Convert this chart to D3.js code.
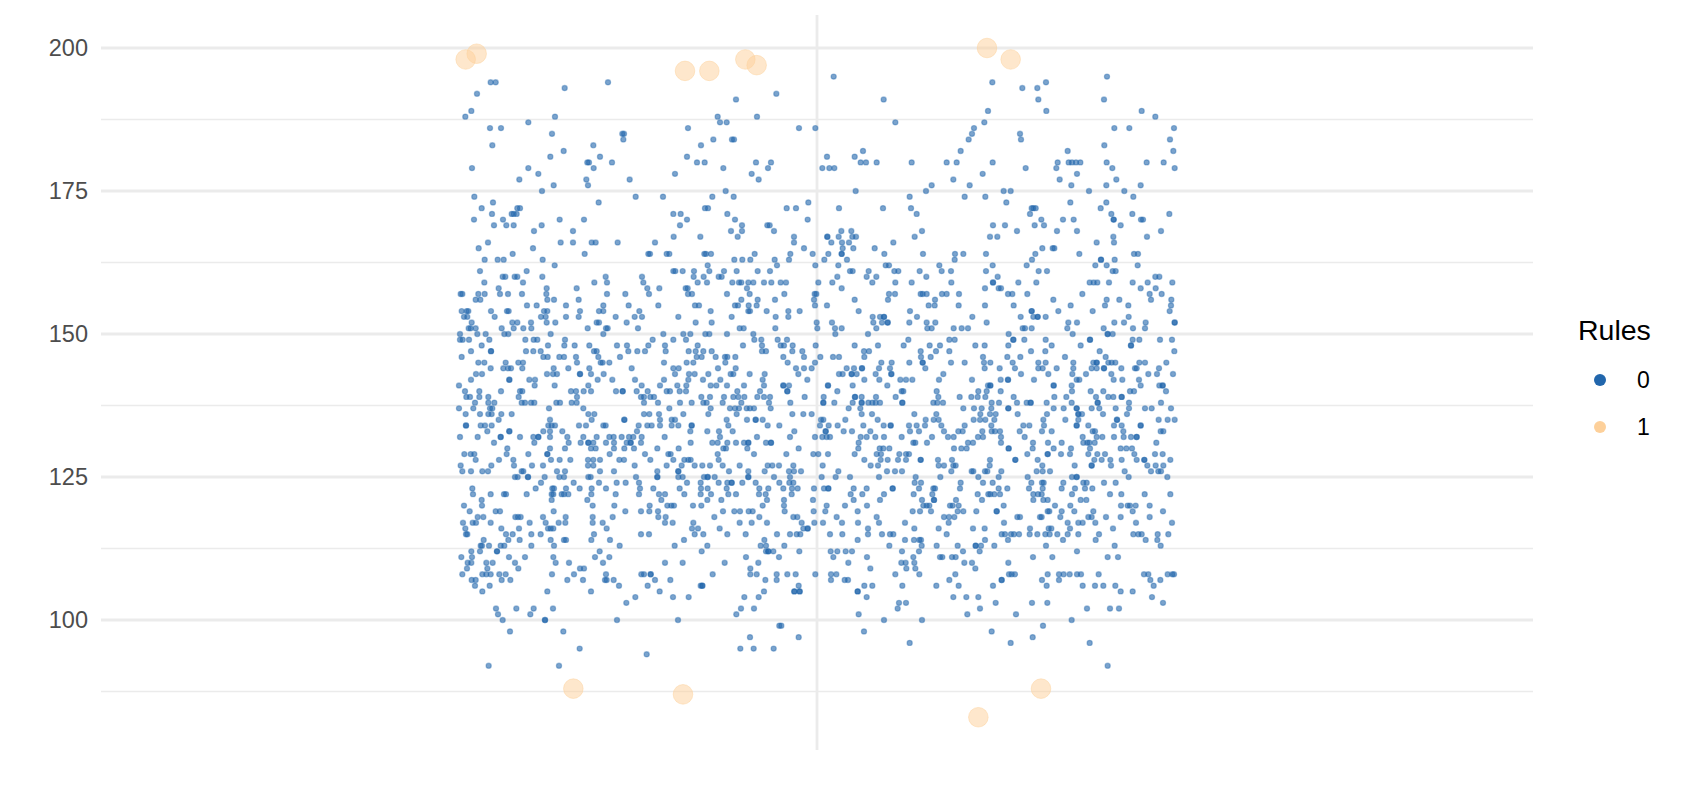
<!DOCTYPE html>
<html><head><meta charset="utf-8">
<script src="https://cdnjs.cloudflare.com/ajax/libs/d3/7.8.5/d3.min.js"></script>
<style>html,body{margin:0;padding:0;background:#fff}svg{display:block}</style>
</head><body><div id="chart"></div>
<script>
const majorTicks=[100,125,150,175,200];
const minorTicks=[87.5,112.5,137.5,162.5,187.5];
const legendLabels=["0","1"];
const legendTitle="Rules";
// jitter positions per integer y value, Rules = 0, left half of the cloud
const rule0Left=[
[194,[152,167,504]],[193,[374]],[192,[111,1009]],[191,[888]],[189,[94]],[188,[76,345,833,951]],[187,[265,840,860]],
[186,[150,183,744,1077]],[185,[336,547,552]],[184,[550,820,876,882]],[183,[157,460,783]],[182,[371]],[181,[331,480,741]],
[180,[442,447,516,771,794,948,993]],[179,[96,265,461,850,984]],[178,[295,705,935]],[177,[238,439,569,956]],[176,[341,444]],
[175,[306,857]],[174,[103,587,669,817,881]],[173,[159,476,1105]],[172,[125,232,240,795,804,1040,1068]],[171,[156,215,221,230,700,722,862]],
[170,[102,189,359,432,741,885,1103]],[169,[162,199,221,305,720,906,982,989]],[168,[282,399,873,906,1002]],[167,[701,781,893,1062]],
[166,[144,362,399,455,467,533,645,1062]],[165,[116,279,1092]],[164,[218,434,625,630,680,688,793,798,813,944,1051]],
[163,[134,173,191,308,883,907,931,1004,1047]],[162,[344,803,1011]],
[161,[120,260,700,706,728,762,808,852,890,953,990]],[160,[188,196,224,232,307,497,606,761,791,836,845]],
[159,[133,249,463,501,610,773,801,877,897,904,925,940,972,994,1022,1038]],[158,[176,320,410,622,658,737,743,921]],
[157,[62,67,115,134,180,204,246,319,501,556,627,744,756,861,929,1033]],[156,[107,121,322,342,416,904,953,1005]],
[155,[261,290,378,490,566,655,765,777,885,894,926,950]],[154,[65,80,85,153,201,206,312,322,420,477,490,598,812,925,930,980,1045,1079]],
[153,[72,82,164,303,317,378,416,527,584,606,715,875,1007,1045]],[152,[95,217,232,273,320,346,470,477,560,767,815]],
[151,[86,92,107,185,221,250,274,443,498,503,594,899,911,1006]],[150,[60,112,137,193,205,332,490,670,730,751,796,808,861,940]],
[149,[60,68,87,148,256,281,292,375,638,700,738,943,964,1013,1041]],[148,[125,324,373,404,448,531,561,625,675,773,909,966,1022,1032,1058]],
[147,[93,153,153,258,280,302,462,470,565,592,615,677,746,767,790,815,966,978,1057,1087]],
[146,[65,310,323,358,372,408,475,540,770,785,827,855,862,886,1030,1092]],
[145,[115,133,197,235,249,411,482,488,508,672,740,760,856,1043]],
[144,[152,190,204,213,247,341,385,448,575,700,716,834,887,1068,1092]],
[143,[108,126,321,339,351,420,420,453,491,705,747,764,805,872,880,929,974,1075]],
[142,[93,208,208,268,285,473,517,585,672,745,789,841,968,1102]],
[141,[57,284,344,445,605,660,712,739,812,829,861,912,972,1030,1030,1047]],
[140,[75,118,183,240,247,393,408,431,453,528,548,548,590,623,680,690,719,738,892,960,1042,1042]],
[139,[79,90,118,145,236,411,603,612,631,642,784,810,852,880,895,913,952,972,990,1094]],
[138,[105,145,163,245,255,273,283,349,360,395,410,612,654,720,755,790,800,848,904,987,1051]],
[137,[57,100,150,157,327,430,688,812,870,885,897,920,930,942,992]],
[136,[77,120,145,155,184,215,445,463,612,628,657,730,805,890,1057,1090]],
[135,[176,330,455,553,553,660,695,705,860,921,947,947,968]],
[134,[78,78,122,135,155,325,335,345,417,438,490,497,596,622,635,660,695,715,755,755,865,983,1018]],
[133,[142,208,208,310,330,367,591,751,802,837,878,1063]],
[132,[60,113,182,182,240,280,295,295,330,382,430,470,508,521,545,567,580,605,674,840,951,1050]],
[131,[162,283,386,422,445,445,460,498,522,560,572,572,603,752,817,833,862,888,912,925,925,978,993,993]],
[130,[202,330,375,453,467,522,553,582,652,716,850,858,922,1076]],
[129,[73,92,103,200,265,322,322,509,615,685,692,833,942,1039]],
[128,[107,177,220,333,359,391,444,460,480,538,552,631,700,733,745,752,836]],
[127,[62,154,222,276,309,444,460,584,680,725,764,787,810,848,899,983,997,1017,1060]],
[126,[67,93,127,144,245,250,351,375,480,522,652,715,715,867,925,974,1047,1062,1083]],
[125,[225,233,264,264,314,358,372,445,452,588,652,652,715,728,792,803,803,824,925,925,1002,1050]],
[124,[303,401,477,530,557,597,741,782,836,862,875,875,907,947,1018,1048,1060]],
[123,[97,287,337,342,378,419,455,498,600,640,719,783,803,860,958,985,1030,1056,1073]],
[122,[99,152,192,198,260,335,340,365,372,385,454,527,597,657,675,733,782,813,865,888,957,977,1055]],
[121,[125,335,442,664,802,844,981,1032]],[120,[72,126,458,523,629,682,694,702,759,784,968,1032]],
[119,[89,167,180,341,556,603,628,654,849,883,900,926,938,1034]],[118,[113,130,226,234,242,309,377,458,518,655,677,823,958,1060,1072]],
[117,[69,98,108,152,269,317,356,376,458,488,675,698,760,899,935,981,1085]],[116,[76,184,237,324,332,340,500,756,774,839,1090,1103,1103]],
[115,[78,82,198,218,274,302,462,603,627,764,790,862,917,1011,1050,1070,1081]],[114,[131,205,239,332,372,378,454,510,732,973]],
[113,[122,126,147,182,193,274,342,539,704,802,962,978,1033]],[112,[94,120,171,171,479,785,978,985,985,1000,1078]],
[111,[64,96,207,255,340,465,508,918,1017]],[110,[83,94,139,158,225,347,387,489,675,728,854,955]],[109,[81,142,235,420,432,931]],
[108,[67,127,139,152,178,197,336,402,498,604,612,632,632,818,931,950,1010,1042,1067]],[107,[95,107,185,211,382,429,495,500,521,645,691,976,1010]],
[106,[105,149,537,623,782,787,787,1076]],[105,[127,322,453,659,972,1063,1063,1079,1079]],[104,[586,699,746,913,956]],[103,[559]],
[102,[168,229,281,339,903,942]],[101,[174,271,889]],[100,[188,315,315,531,714]],[99,[1018,1024]],[98,[210,370]],[97,[930,1076]],
[95,[419,901,941,1001]],[94,[620]],[92,[146,357]]
];
// Rules = 0, right half of the cloud
const rule0Right=[
[195,[71,891]],[194,[547,708]],[193,[637,682]],[191,[221,685,882]],[189,[534,709,995]],[188,[1036]],[187,[256,523]],
[186,[16,492,913,958,1092]],[185,[486,630]],[184,[476,633,1080]],[183,[883]],[182,[159,452,773,1090]],[181,[51,134]],
[180,[152,168,200,305,410,440,548,743,776,786,798,811,890,1010,1061]],[179,[37,58,73,647,739,907,1094]],[178,[518,801]],
[177,[430,749,919]],[176,[365,479,784,889,992]],[175,[137,348,581,602,837,943]],[174,[299,464,526,970]],[173,[589,781,889]],
[172,[87,219,303,665,670,677,872]],[171,[320,660,904,967,1078]],[170,[694,759,791,911,911,993,999]],[169,[549,585,674,702,932]],
[168,[94,124,336,621,741,801,1053]],[167,[52,52,86,127,138,314,540,562,910,1011]],[166,[64,96,117,250,860,912]],
[165,[98,130,194,697,728,733]],[164,[8,55,95,95,223,339,435,460,528,676,808,972,984]],[163,[43,111,434,666,873,873,914]],
[162,[16,85,227,237,388,548,650,856,890,983]],
[161,[120,128,176,253,265,329,395,423,528,686,711,908,917]],[160,[82,170,199,349,563,1036,1048]],
[159,[25,67,187,256,305,424,549,549,625,679,839,851,862,897,968,1013,1087]],[158,[95,525,566,573,992,1037]],
[157,[14,19,237,255,332,338,350,396,410,447,594,607,652,817,1019,1055]],[156,[12,134,234,375,730,890,928,1023,1084]],
[155,[15,51,356,374,446,525,611,782,885,955,1083]],[154,[146,300,665,665,745,848,1079]],
[153,[188,210,222,222,321,487,632,670,683,683,707,956]],[152,[20,66,190,216,233,233,298,350,376,530,775,801,913,942,1007,1094,1094]],
[151,[22,75,95,199,352,365,431,455,474,638,645,665,772,881,969,1005]],[150,[76,174,596,788,893,893,908]],
[149,[295,418,434,610,610,643,707,840,840,968,988,1050,1086]],[148,[17,134,204,281,359,390,496,524,595,725,812,963,963]],
[147,[162,177,332,378,418,663,706,869,1093]],[146,[31,69,87,163,333,362,519,592,631,765,887]],
[145,[15,214,245,298,338,338,423,464,522,541,608,685,707,790,850,860,860,895,905,916,988,1005,1069]],
[144,[5,110,132,156,156,207,240,346,524,569,615,685,698,740,790,845,860,882,882,934,975,980,1047]],
[143,[87,98,125,125,140,197,244,244,400,633,715,787,828,904,1015,1041,1089]],
[142,[163,208,271,288,307,387,486,572,594,594,672,800,808,911,937,987]],
[141,[54,54,128,232,534,541,541,731,731,785,992,1048,1058,1058]],
[140,[82,275,280,380,505,530,572,786,842,880,960,972,1068]],
[139,[41,135,135,155,198,257,385,449,484,503,526,611,733,769,858,895,910,935,935]],
[138,[40,40,73,128,155,155,175,187,197,210,277,277,370,382,399,545,567,621,650,662,662,710,785,863,863,957,1053]],
[137,[116,151,460,492,515,544,595,595,731,761,800,800,845,868,917,957,1005,1025,1083]],
[136,[5,155,186,313,379,511,540,557,623,711,805,805,816,879,951]],
[135,[33,40,106,203,347,371,386,491,510,526,553,700,766,805,921,921,1046,1073,1094]],
[134,[30,56,83,160,221,242,242,297,320,345,394,464,544,640,658,702,800,800,835,912,935,992,992]],
[133,[47,47,101,126,181,300,327,402,445,458,517,545,555,570,629,696,725,848,855,940,1052,1060]],
[132,[15,37,50,60,152,170,196,222,275,366,414,431,504,519,573,644,818,860,877,912,941,963,980,980]],
[131,[146,310,316,351,474,489,573,669,714,755,820,832,838,854,1039]],
[130,[145,209,220,238,432,454,470,596,596,668,731,783,840,932,949,966]],
[129,[10,25,54,134,200,213,268,288,297,652,713,713,753,780,835,862,885,973,1035,1058]],
[128,[163,212,233,264,288,332,332,384,426,540,616,616,683,853,875,901,935,980,1003,1003,1081]],
[127,[38,182,204,386,402,430,437,539,697,794,845,845,903,1012,1037,1060]],
[126,[85,231,255,276,424,485,490,525,532,574,680,698,720,944,1023,1045,1053]],
[125,[35,77,120,207,317,391,505,566,653,786,800,800,956,1072]],
[124,[314,333,452,519,548,664,696,701,760,820,830,882,917]],
[123,[12,42,55,55,131,170,248,248,327,370,375,450,566,592,657,698,755,795,825,847]],
[122,[122,157,222,311,367,503,535,541,553,570,670,684,695,786,900,934,1004,1081]],
[121,[9,131,210,336,372,372,438,516,670,700,713,812,829]],[120,[50,105,171,340,350,358,420,428,446,581,735,781,933,953,960,977,1019]],
[119,[11,46,143,308,330,363,443,460,499,560,560,713,718,755,793,850,968,1059]],[118,[80,200,402,417,433,622,630,690,695,751,835,845,888,932,1019]],
[117,[13,39,96,144,207,285,416,582,773,805,818,856,978,1086]],[116,[174,313,386,489,524,660,716,724,780,909]],
[115,[60,97,174,216,240,250,410,575,585,603,612,627,659,682,706,719,742,773,805,867,970,985,995,1043,1075]],
[114,[143,285,312,328,333,525,594,759,857,1007,1042]],[113,[238,335,380,443,497,497,513,553,708,914,1052]],
[112,[62,82,107,126,276,327,459,509,801]],[111,[70,171,310,390,397,426,437,669,727,893,924]],[110,[115,274,287,313,463,486,595]],[109,[181,289,316,496]],
[108,[16,63,79,256,328,436,597,605,615,713,747,761,779,801,813,866,1002,1015,1073,1087,1092]],[107,[63,104,114,418,575,575,696,747,1021,1051]],
[106,[163,187,277,379,446,549,710,818,855,880,916,1031]],[105,[143,143,932,968]],[104,[170,430,469,505,1026]],[103,[267,288,557,666,712,1059]],
[102,[263,510,831,900,927]],[101,[146,472,618]],[100,[222,336,785]],[99,[699]],[98,[162,545]],[97,[668]],[96,[299,602,839]],[92,[893]]
];
// Rules = 1 (rule violations)
const rule1Left=[[199,110],[198,77],[196,735],[196,808],[198,916],[197,950],[88,400],[87,729]];
const rule1Right=[[200,531],[198,602],[88,693],[83,505]];
const halfOffset=1110;

const W=1681,H=807;
const svg=d3.select("#chart").append("svg").attr("width",W).attr("height",H).style("font-family","'Liberation Sans',Arial,sans-serif");
const y=d3.scaleLinear().domain([100,200]).range([620,48]);
const x=d3.scaleLinear().domain([0,halfOffset]).range([440,810]);
const panel={l:101,r:1533,t:15,b:750,cx:817};
const gridColor="#ebebeb";

svg.append("g").selectAll("line").data(minorTicks).join("line")
 .attr("x1",panel.l).attr("x2",panel.r).attr("y1",d=>y(d)).attr("y2",d=>y(d))
 .attr("stroke",gridColor).attr("stroke-width",1.4);
svg.append("g").selectAll("line").data(majorTicks).join("line")
 .attr("x1",panel.l).attr("x2",panel.r).attr("y1",d=>y(d)).attr("y2",d=>y(d))
 .attr("stroke",gridColor).attr("stroke-width",2.8);
svg.append("line").attr("x1",panel.cx).attr("x2",panel.cx).attr("y1",panel.t).attr("y2",panel.b)
 .attr("stroke",gridColor).attr("stroke-width",2.8);

const axis=d3.axisLeft(y).tickValues(majorTicks).tickSize(0).tickPadding(0);
const ax=svg.append("g").attr("transform","translate(88,0)").call(axis);
ax.select(".domain").remove();
ax.selectAll("text").attr("fill","#4d4d4d").style("font-size","23.5px").style("font-family","'Liberation Sans',Arial,sans-serif");

const flat=(rows,off)=>rows.flatMap(([v,xs])=>xs.map(u=>({v,u:u+off})));
const blue=flat(rule0Left,0).concat(flat(rule0Right,halfOffset));
svg.append("g").selectAll("circle").data(blue).join("circle")
 .attr("cx",d=>x(d.u)).attr("cy",d=>y(d.v)).attr("r",2.6)
 .attr("fill","#2166ac").attr("fill-opacity",0.6).attr("stroke","#2166ac").attr("stroke-opacity",0.4).attr("stroke-width",1.2);

const orange=rule1Left.map(([v,u])=>({v,u})).concat(rule1Right.map(([v,u])=>({v,u:u+halfOffset})));
svg.append("g").selectAll("circle").data(orange).join("circle")
 .attr("cx",d=>x(d.u)).attr("cy",d=>y(d.v)).attr("r",9.8)
 .attr("fill","#fdd09a").attr("fill-opacity",0.5).attr("stroke","#fdd09a").attr("stroke-opacity",0.6).attr("stroke-width",0.8);

const legend=svg.append("g");
legend.append("text").attr("x",1578).attr("y",340).attr("font-size",28.5).attr("fill","#000").text(legendTitle);
const legendColor=d3.scaleOrdinal().domain(legendLabels).range(["#2166ac","#fdd09a"]);
const legendY=d3.scalePoint().domain(legendLabels).range([380,427]);
legend.selectAll("circle").data(legendLabels).join("circle")
 .attr("cx",1600).attr("cy",d=>legendY(d)).attr("r",6).attr("fill",d=>legendColor(d));
legend.selectAll("text.l").data(legendLabels).join("text").attr("class","l")
 .attr("x",1637).attr("y",d=>legendY(d)).attr("dy","0.36em").attr("font-size",23).attr("fill","#000").text(d=>d);
</script></body></html>
